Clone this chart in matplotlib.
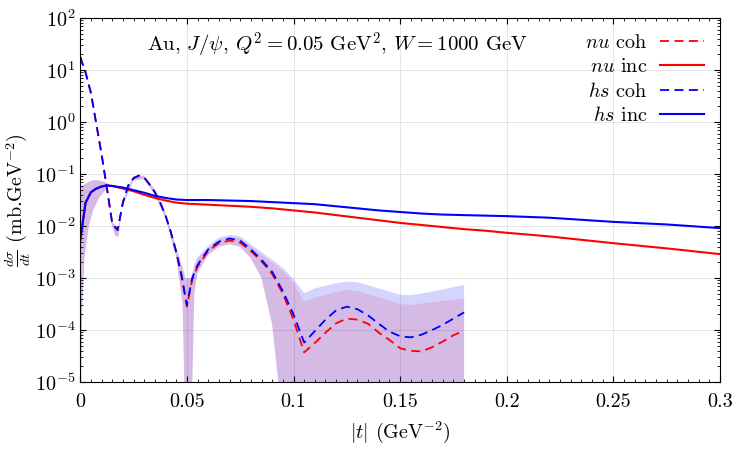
import numpy as np
import matplotlib
matplotlib.use("Agg")
import matplotlib.pyplot as plt
from matplotlib.ticker import MultipleLocator, LogLocator, NullFormatter, FuncFormatter

plt.rcParams['font.family'] = 'serif'
plt.rcParams['font.serif'] = ['cmr10', 'DejaVu Serif']
plt.rcParams['mathtext.fontset'] = 'cm'
plt.rcParams['axes.formatter.use_mathtext'] = True
plt.rcParams['axes.unicode_minus'] = False

# coherent curves (log10 of dsigma/dt)
t_coh = [0, 0.0025, 0.005, 0.0075, 0.01, 0.0125, 0.015, 0.0175, 0.02, 0.0225, 0.025,
         0.0275, 0.03, 0.0325, 0.035, 0.0375, 0.04, 0.0425, 0.045, 0.0475, 0.05, 0.0525,
         0.055, 0.0575, 0.06, 0.065, 0.07, 0.075, 0.08, 0.085, 0.09, 0.095, 0.1, 0.105,
         0.11, 0.115, 0.12, 0.125, 0.13, 0.135, 0.14, 0.145, 0.15, 0.155, 0.16, 0.165,
         0.17, 0.175, 0.18]
hs_coh = [1.25, 0.95, 0.56, -0.03, -0.62, -1.27, -1.95, -2.08, -1.55, -1.22, -1.08,
          -1.03, -1.07, -1.2, -1.35, -1.55, -1.8, -2.12, -2.5, -2.95, -3.52, -3.0,
          -2.75, -2.6, -2.45, -2.3, -2.24, -2.28, -2.45, -2.65, -2.88, -3.25, -3.7, -4.24,
          -4.02, -3.8, -3.62, -3.55, -3.6, -3.72, -3.88, -4.03, -4.12, -4.14, -4.09, -4.0,
          -3.9, -3.78, -3.66]
nu_coh = [1.25, 0.95, 0.56, -0.03, -0.62, -1.27, -1.95, -2.08, -1.55, -1.22, -1.08,
          -1.03, -1.07, -1.2, -1.35, -1.55, -1.8, -2.12, -2.5, -2.96, -3.55, -3.03,
          -2.78, -2.63, -2.48, -2.33, -2.28, -2.32, -2.48, -2.68, -2.92, -3.3, -3.8, -4.43,
          -4.25, -4.05, -3.87, -3.78, -3.8, -3.88, -4.05, -4.19, -4.35, -4.4, -4.41, -4.33,
          -4.22, -4.1, -4.01]

# incoherent curves
t_inc = [0, 0.0025, 0.005, 0.0075, 0.01, 0.0125, 0.015, 0.02, 0.025, 0.03, 0.035, 0.04,
         0.045, 0.05, 0.06, 0.07, 0.08, 0.09, 0.1, 0.11, 0.12, 0.13, 0.14, 0.15, 0.16,
         0.17, 0.18, 0.19, 0.2, 0.22, 0.25, 0.275, 0.3]
hs_inc = [-2.27, -1.55, -1.35, -1.28, -1.24, -1.22, -1.23, -1.26, -1.31, -1.36, -1.42,
          -1.46, -1.49, -1.5, -1.5, -1.51, -1.52, -1.54, -1.56, -1.58, -1.62, -1.66, -1.7,
          -1.73, -1.76, -1.78, -1.79, -1.8, -1.81, -1.84, -1.92, -1.97, -2.04]
nu_inc = [-2.27, -1.55, -1.35, -1.28, -1.24, -1.22, -1.23, -1.28, -1.33, -1.4, -1.46,
          -1.51, -1.55, -1.57, -1.59, -1.61, -1.63, -1.66, -1.7, -1.74, -1.79, -1.84, -1.89,
          -1.94, -1.98, -2.02, -2.06, -2.09, -2.13, -2.2, -2.33, -2.43, -2.54]

# uncertainty bands (log10), nan separates pieces
t_band = [0, 0.001, 0.002, 0.004, 0.006, 0.009, 0.012, 0.0135, np.nan,
          0.0145, 0.0165, 0.018, 0.019, np.nan,
          0.02, 0.025, 0.03, 0.035, 0.04, 0.045, 0.048, 0.0493, 0.052, 0.0535, 0.055,
          0.06, 0.065, 0.07, 0.075, 0.08, 0.085, 0.09, 0.0955, 0.1, 0.105, 0.11, 0.12,
          0.125, 0.13, 0.14, 0.15, 0.155, 0.16, 0.17, 0.18]
hs_band_up = [-1.25, -1.22, -1.2, -1.15, -1.12, -1.12, -1.16, -1.2, np.nan,
              -1.9, -2.0, -2.0, -1.8, np.nan,
              -1.48, -1.04, -1.03, -1.3, -1.75, -2.4, -2.8, -3.0, -3.0, -2.75, -2.6,
              -2.38, -2.22, -2.17, -2.2, -2.35, -2.5, -2.65, -2.82, -3.02, -3.29, -3.2, -3.1,
              -3.07, -3.08, -3.2, -3.32, -3.33, -3.3, -3.22, -3.13]
nu_band_up = [-1.25, -1.22, -1.2, -1.15, -1.12, -1.12, -1.16, -1.2, np.nan,
              -1.9, -2.0, -2.0, -1.8, np.nan,
              -1.48, -1.04, -1.03, -1.3, -1.75, -2.4, -2.8, -3.0, -3.0, -2.78, -2.63,
              -2.42, -2.26, -2.21, -2.24, -2.39, -2.55, -2.7, -2.88, -3.1, -3.46, -3.38, -3.27,
              -3.23, -3.25, -3.37, -3.5, -3.52, -3.49, -3.44, -3.39]
band_low = [-6, -3.5, -2.6, -2.0, -1.7, -1.45, -1.3, -1.22, np.nan,
            -1.95, -2.2, -2.2, -1.85, np.nan,
            -1.6, -1.12, -1.1, -1.4, -1.85, -2.6, -3.5, -6, -6, -3.3, -2.9,
            -2.55, -2.4, -2.35, -2.4, -2.62, -3.0, -3.9, -6, -6, -6, -6, -6,
            -6, -6, -6, -6, -6, -6, -6, -6]

fig = plt.figure(figsize=(7.5, 4.5), dpi=100)
ax = fig.add_axes([0.107, 0.151, 0.853, 0.809])

tb = np.array(t_band)
ax.fill_between(tb, 10**np.array(band_low), 10**np.array(nu_band_up),
                color='red', alpha=0.12, lw=0)
ax.fill_between(tb, 10**np.array(band_low), 10**np.array(hs_band_up),
                color='blue', alpha=0.17, lw=0)

ax.plot(t_coh, 10**np.array(nu_coh), color='red', lw=1.3, dashes=(5, 3), label='$nu$ coh')
ax.plot(t_inc, 10**np.array(nu_inc), color='red', lw=1.5, label='$nu$ inc')
ax.plot(t_coh, 10**np.array(hs_coh), color='blue', lw=1.3, dashes=(5, 3), label='$hs$ coh')
ax.plot(t_inc, 10**np.array(hs_inc), color='blue', lw=1.5, label='$hs$ inc')

ax.set_yscale('log')
ax.set_xlim(0, 0.3)
ax.set_ylim(1e-5, 1e2)
ax.xaxis.set_major_locator(MultipleLocator(0.05))
ax.xaxis.set_minor_locator(MultipleLocator(0.005))
ax.xaxis.set_major_formatter(FuncFormatter(lambda v, p: '%g' % round(v, 3)))
ax.yaxis.set_major_locator(LogLocator(base=10, numticks=20))
ax.yaxis.set_minor_locator(LogLocator(base=10, subs=np.arange(2, 10), numticks=20))
ax.yaxis.set_minor_formatter(NullFormatter())
ax.tick_params(which='both', direction='in', top=True, right=True, labelsize=14.5)
ax.tick_params(axis='x', pad=8)
ax.tick_params(which='major', length=4)
ax.tick_params(which='minor', length=2)
ax.grid(True, which='major', color='#e0e0e0', lw=0.6)
ax.set_axisbelow(True)

ax.set_xlabel(r'$|t|$ (GeV$^{-2}$)', fontsize=14.5, labelpad=6)
ax.set_ylabel(r'$\frac{d\sigma}{dt}$ (mb.GeV$^{-2}$)', fontsize=14.5, labelpad=1)
ax.text(0.105, 0.926, r'Au, $J/\psi$, $Q^2 = 0.05$ GeV$^2$, $W = 1000$ GeV',
        transform=ax.transAxes, fontsize=15, ha='left', va='center')
ax.legend(loc='upper right', frameon=False, markerfirst=False, fontsize=14.5,
          handlelength=2.2, labelspacing=0.28, borderaxespad=0.4, handletextpad=0.6)

fig.savefig('out.png', dpi=100)
